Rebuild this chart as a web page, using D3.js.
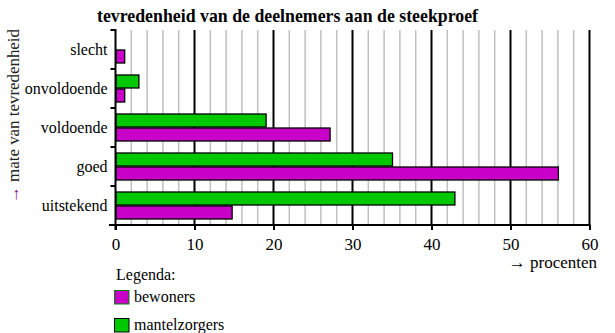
<!DOCTYPE html>
<html><head><meta charset="utf-8">
<script src="https://cdn.jsdelivr.net/npm/d3@7"></script>
<style>
html,body{margin:0;padding:0;background:#fff;}
svg{display:block;}
svg text{font-family:"Liberation Serif","Times New Roman",Times,"DejaVu Serif",serif !important;}
</style></head>
<body>
<svg id="c" width="615" height="333"></svg>
<script>
const categories = ["slecht","onvoldoende","voldoende","goed","uitstekend"];
const bewoners = [1.1, 1.1, 27.1, 56, 14.7];
const mantelzorgers = [0, 2.9, 19, 35, 42.9];
const xTicks = [0,10,20,30,40,50,60];
const seriesNames = ["bewoners","mantelzorgers"];
const title = "tevredenheid van de deelnemers aan de steekproef";

(function(){
const svg = d3.select("#c");
const x = d3.scaleLinear().domain([0,60]).range([115.5,589.5]);
const y = d3.scaleBand().domain(categories).range([30,225]);
const plotTop = 30, plotBottom = 225;
const magenta = "#c800c8", green = "#00c800";

const minor = d3.range(2,60,2).filter(v => v % 10 !== 0);
svg.append("g").selectAll("line").data(minor).join("line")
  .attr("x1", d=>x(d)).attr("x2", d=>x(d)).attr("y1", plotTop).attr("y2", plotBottom)
  .attr("stroke","#c0c0c0").attr("stroke-width",1.5);
svg.append("g").selectAll("line").data(xTicks.filter(v=>v>0)).join("line")
  .attr("x1", d=>x(d)).attr("x2", d=>x(d)).attr("y1", plotTop).attr("y2", plotBottom)
  .attr("stroke","#000").attr("stroke-width",2);

const bh = 13;
const g = svg.append("g");
categories.forEach((c,i) => {
  const cy = y(c) + y.bandwidth()/2;
  if (mantelzorgers[i] > 0)
    g.append("rect").attr("x", x(0)+0.5).attr("y", cy - bh - 0.5)
      .attr("width", x(mantelzorgers[i]) - x(0)).attr("height", bh)
      .attr("fill", green).attr("stroke","#000").attr("stroke-width",1.3);
  if (bewoners[i] > 0)
    g.append("rect").attr("x", x(0)+0.5).attr("y", cy + 0.5)
      .attr("width", x(bewoners[i]) - x(0)).attr("height", bh)
      .attr("fill", magenta).attr("stroke","#000").attr("stroke-width",1.3);
});

const xa = svg.append("g").attr("transform", `translate(0,${plotBottom})`)
  .call(d3.axisBottom(x).tickValues(xTicks).tickSize(5).tickFormat(d3.format("d")));
xa.select(".domain").remove();
xa.selectAll(".tick line").attr("stroke","#000").attr("stroke-width",2);
xa.selectAll(".tick text").attr("font-size",17).attr("fill","#000").attr("y",13);
svg.append("line").attr("x1",109).attr("x2",590.5).attr("y1",plotBottom).attr("y2",plotBottom)
  .attr("stroke","#000").attr("stroke-width",2);

const ya = svg.append("g").attr("transform", `translate(${x(0)},0)`)
  .call(d3.axisLeft(y).tickSize(0).tickPadding(8));
ya.select(".domain").remove();
ya.selectAll(".tick text").attr("font-size",16).attr("fill","#000");
svg.append("line").attr("x1",x(0)).attr("x2",x(0)).attr("y1",plotTop-1).attr("y2",plotBottom+5)
  .attr("stroke","#000").attr("stroke-width",2);
const seps = categories.map(c=>y(c)).concat([plotBottom]);
svg.append("g").selectAll("line").data(seps).join("line")
  .attr("x1", x(0)-5).attr("x2", x(0)).attr("y1", d=>d).attr("y2", d=>d)
  .attr("stroke","#000").attr("stroke-width",2);

svg.append("text").attr("x",97).attr("y",22).attr("font-size",19).attr("font-weight","bold")
  .attr("textLength",381).attr("lengthAdjust","spacingAndGlyphs").text(title);

const yl = svg.append("text").attr("transform","translate(19,203) rotate(-90)")
  .attr("font-size",16).attr("fill","#222")
  .attr("textLength",174).attr("lengthAdjust","spacingAndGlyphs");
yl.append("tspan").attr("fill","#800080").text("→ ");
yl.append("tspan").text("mate van tevredenheid");

svg.append("text").attr("x",597).attr("y",268).attr("text-anchor","end").attr("font-size",17)
  .text("→ procenten");

svg.append("text").attr("x",116).attr("y",280).attr("font-size",16).text("Legenda:");
const leg = [{n:seriesNames[0], c:magenta, s:"#008000", y:290},{n:seriesNames[1], c:green, s:"#000", y:318}];
leg.forEach(l => {
  svg.append("rect").attr("x",114.5).attr("y",l.y+0.5).attr("width",14.5).attr("height",13.5)
    .attr("fill",l.c).attr("stroke",l.s).attr("stroke-width",1);
  svg.append("text").attr("x",134).attr("y",l.y+12).attr("font-size",16).text(l.n);
});
})();
</script>
</body></html>
